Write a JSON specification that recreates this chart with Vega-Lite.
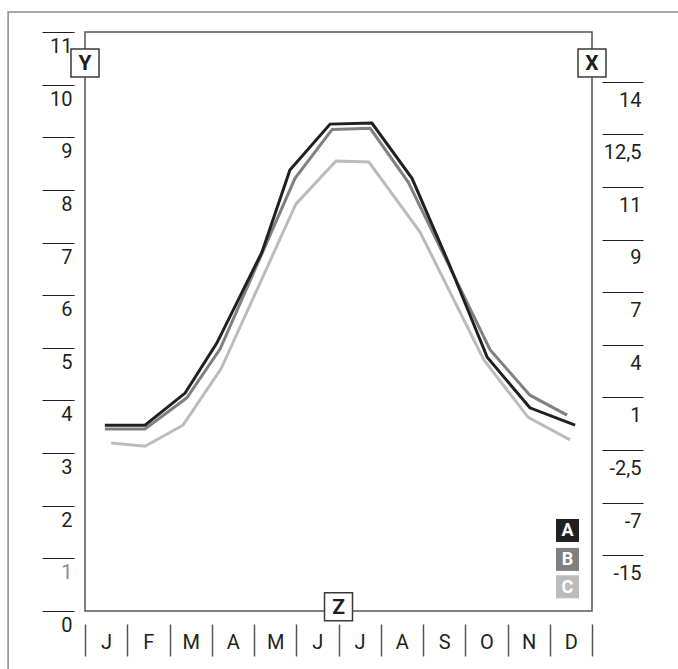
{
  "$schema": "https://vega.github.io/schema/vega-lite/v6.json",
  "width": 507,
  "height": 579,
  "autosize": "none",
  "padding": {"left": 85, "top": 32, "right": 86, "bottom": 58},
  "background": "white",
  "config": {
    "font": "Roboto",
    "view": {"stroke": "#555555", "strokeWidth": 1.5}
  },
  "datasets": {
    "lines": [
      {"s": "A", "m": 0.47, "v": 3.53}, {"s": "A", "m": 1.42, "v": 3.53}, {"s": "A", "m": 2.37, "v": 4.14},
      {"s": "A", "m": 3.12, "v": 5.09}, {"s": "A", "m": 4.19, "v": 6.82}, {"s": "A", "m": 4.85, "v": 8.38},
      {"s": "A", "m": 5.8, "v": 9.25}, {"s": "A", "m": 6.79, "v": 9.27}, {"s": "A", "m": 7.74, "v": 8.22},
      {"s": "A", "m": 8.64, "v": 6.55}, {"s": "A", "m": 9.52, "v": 4.82}, {"s": "A", "m": 10.53, "v": 3.86},
      {"s": "A", "m": 11.6, "v": 3.53},
      {"s": "B", "m": 0.47, "v": 3.46}, {"s": "B", "m": 1.42, "v": 3.46}, {"s": "B", "m": 2.41, "v": 4.05},
      {"s": "B", "m": 3.2, "v": 4.98}, {"s": "B", "m": 4.97, "v": 8.22}, {"s": "B", "m": 5.85, "v": 9.15},
      {"s": "B", "m": 6.75, "v": 9.17}, {"s": "B", "m": 7.65, "v": 8.15}, {"s": "B", "m": 9.59, "v": 4.96},
      {"s": "B", "m": 10.53, "v": 4.1}, {"s": "B", "m": 11.41, "v": 3.72},
      {"s": "C", "m": 0.62, "v": 3.19}, {"s": "C", "m": 1.42, "v": 3.13}, {"s": "C", "m": 2.32, "v": 3.53},
      {"s": "C", "m": 3.22, "v": 4.6}, {"s": "C", "m": 4.99, "v": 7.73}, {"s": "C", "m": 5.94, "v": 8.55},
      {"s": "C", "m": 6.72, "v": 8.53}, {"s": "C", "m": 7.93, "v": 7.2}, {"s": "C", "m": 9.44, "v": 4.77},
      {"s": "C", "m": 10.49, "v": 3.68}, {"s": "C", "m": 11.48, "v": 3.25}
    ],
    "boxes": [
      {"t": "Y", "bx": 0, "by": 10.41},
      {"t": "X", "bx": 12, "by": 10.41},
      {"t": "Z", "bx": 6, "by": 0.08}
    ],
    "legend": [
      {"s": "A", "lx": 11.42, "ly": 1.53},
      {"s": "B", "lx": 11.42, "ly": 0.98},
      {"s": "C", "lx": 11.42, "ly": 0.46}
    ],
    "frame": [{"x1": -1.82, "x2": 14.5, "y1": 11.38, "y2": -2}]
  },
  "layer": [
    {
      "data": {"name": "frame"},
      "mark": {"type": "rect", "fill": "transparent", "stroke": "#8a8a8a", "strokeWidth": 1.5},
      "encoding": {
        "x": {"field": "x1", "type": "quantitative", "scale": {"domain": [0, 12], "nice": false}, "axis": null},
        "x2": {"field": "x2"},
        "y": {"field": "y1", "type": "quantitative", "scale": {"domain": [0, 11], "nice": false}, "axis": null},
        "y2": {"field": "y2"}
      }
    },
    {
      "data": {"name": "lines"},
      "transform": [{"filter": "datum.s == 'C'"}],
      "mark": {"type": "line", "strokeWidth": 3},
      "encoding": {
        "x": {
          "field": "m", "type": "quantitative",
          "scale": {"domain": [0, 12], "nice": false},
          "axis": {
            "orient": "bottom", "title": null, "offset": 13, "values": [0,1,2,3,4,5,6,7,8,9,10,11,12],
            "domain": false, "grid": false, "ticks": true, "tickSize": 32, "tickColor": "#555555", "tickWidth": 1.5,
            "labelExpr": "['J','F','M','A','M','J','J','A','S','O','N','D',''][datum.value]",
            "labelOffset": 21.125, "labelPadding": -13.5, "labelBaseline": "middle", "labelAlign": "center",
            "labelFontSize": 20, "labelColor": "#231f20", "labelFlush": false, "labelOverlap": false, "labelBound": false
          }
        },
        "y": {
          "field": "v", "type": "quantitative",
          "scale": {"domain": [0, 11], "nice": false},
          "axis": {
            "orient": "left", "title": null, "offset": 11, "values": [0,1,2,3,4,5,6,7,8,9,10,11],
            "domain": false, "grid": false, "tickSize": 32, "tickColor": "#231f20", "tickWidth": 1.2,
            "labelAlign": "right", "labelBaseline": "middle", "labelOffset": 14.5, "labelPadding": -30,
            "labelFontSize": 20,
            "labelColor": {"condition": {"test": "datum.value == 1", "value": "#8a8a8a"}, "value": "#231f20"},
            "labelFlush": false, "labelOverlap": false, "labelBound": false
          }
        },
        "color": {"field": "s", "type": "nominal", "scale": {"domain": ["A", "B", "C"], "range": ["#231f20", "#808080", "#bcbcbc"]}, "legend": null}
      }
    },
    {
      "data": {"name": "lines"},
      "transform": [{"filter": "datum.s == 'B'"}],
      "mark": {"type": "line", "strokeWidth": 3},
      "encoding": {
        "x": {"field": "m", "type": "quantitative", "scale": {"domain": [0, 12], "nice": false}, "axis": null},
        "y": {"field": "v", "type": "quantitative", "scale": {"domain": [0, 11], "nice": false}, "axis": null},
        "color": {"field": "s", "type": "nominal", "legend": null}
      }
    },
    {
      "data": {"name": "lines"},
      "transform": [{"filter": "datum.s == 'A'"}],
      "mark": {"type": "line", "strokeWidth": 3},
      "encoding": {
        "x": {"field": "m", "type": "quantitative", "scale": {"domain": [0, 12], "nice": false}, "axis": null},
        "y": {"field": "v", "type": "quantitative", "scale": {"domain": [0, 11], "nice": false}, "axis": null},
        "color": {"field": "s", "type": "nominal", "legend": null}
      }
    },
    {
      "data": {"name": "legend"},
      "mark": {"type": "point", "shape": "square", "size": 529, "filled": true, "opacity": 1},
      "encoding": {
        "x": {"field": "lx", "type": "quantitative", "scale": {"domain": [0, 12], "nice": false}, "axis": null},
        "y": {
          "field": "ly", "type": "quantitative",
          "scale": {"domain": [0, 11], "nice": false},
          "axis": {
            "orient": "right", "title": null, "offset": 10, "values": [1,2,3,4,5,6,7,8,9,10],
            "domain": false, "grid": false, "tickSize": 41, "tickOffset": -3, "tickColor": "#231f20", "tickWidth": 1.2,
            "labelExpr": "['','-15','-7','-2,5','1','4','7','9','11','12,5','14'][datum.value]",
            "labelAlign": "right", "labelBaseline": "middle", "labelOffset": 18.4, "labelPadding": -2,
            "labelFontSize": 20, "labelColor": "#231f20",
            "labelFlush": false, "labelOverlap": false, "labelBound": false
          }
        },
        "color": {"field": "s", "type": "nominal", "legend": null}
      }
    },
    {
      "data": {"name": "legend"},
      "mark": {"type": "text", "color": "white", "fontSize": 18, "fontWeight": "bold", "align": "center", "baseline": "middle", "dy": 1},
      "encoding": {
        "x": {"field": "lx", "type": "quantitative", "scale": {"domain": [0, 12], "nice": false}, "axis": null},
        "y": {"field": "ly", "type": "quantitative", "scale": {"domain": [0, 11], "nice": false}, "axis": null},
        "text": {"field": "s"}
      }
    },
    {
      "data": {"name": "boxes"},
      "mark": {"type": "point", "shape": "square", "size": 784, "filled": true, "fill": "white", "stroke": "#3a3a3a", "strokeWidth": 1.5, "opacity": 1},
      "encoding": {
        "x": {"field": "bx", "type": "quantitative", "scale": {"domain": [0, 12], "nice": false}, "axis": null},
        "y": {"field": "by", "type": "quantitative", "scale": {"domain": [0, 11], "nice": false}, "axis": null}
      }
    },
    {
      "data": {"name": "boxes"},
      "mark": {"type": "text", "color": "#231f20", "fontSize": 21, "fontWeight": "bold", "align": "center", "baseline": "middle", "dy": 1},
      "encoding": {
        "x": {"field": "bx", "type": "quantitative", "scale": {"domain": [0, 12], "nice": false}, "axis": null},
        "y": {"field": "by", "type": "quantitative", "scale": {"domain": [0, 11], "nice": false}, "axis": null},
        "text": {"field": "t"}
      }
    }
  ],
  "resolve": {"axis": {"x": "independent", "y": "independent"}}
}
